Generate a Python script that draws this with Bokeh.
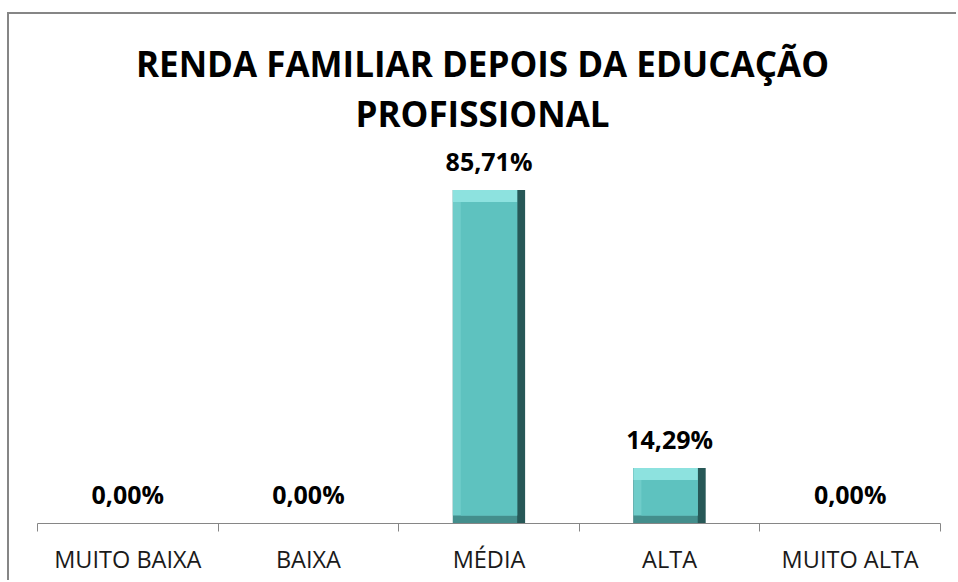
from bokeh.plotting import figure
from bokeh.models import (ColumnDataSource, FactorRange, Range1d, CategoricalAxis, LinearAxis,
                          FixedTicker, Label, CDSView, BooleanFilter)
from bokeh.transform import dodge
from bokeh.core.properties import value
from bokeh.embed import file_html
from bokeh.resources import INLINE

# ---- data ----
title_lines = ["RENDA FAMILIAR DEPOIS DA EDUCAÇÃO", "PROFISSIONAL"]
categories = ["MUITO BAIXA", "BAIXA", "MÉDIA", "ALTA", "MUITO ALTA"]
percentages = [0.00, 0.00, 85.71, 14.29, 0.00]
boundary_ticks = [0, 1, 2, 3, 4, 5]

labels = [f"{v:.2f}%".replace(".", ",") for v in percentages]
src = ColumnDataSource(dict(cat=categories, v=percentages, label=labels))

p = figure(width=949, height=568,
           x_range=FactorRange(factors=categories, range_padding=0.1,
                               range_padding_units="absolute"),
           y_range=Range1d(-15.17, 130.85),
           output_backend="svg", toolbar_location=None,
           x_axis_location=None, y_axis_location=None, title=None,
           min_border_left=10, min_border_right=0, min_border_top=0, min_border_bottom=0)
# chart-area border: only its top and left edges fall inside the picture
p.styles = {"margin-left": "7px", "margin-top": "12px",
            "border-left": "2px solid #868686", "border-top": "2px solid #868686"}
p.xgrid.grid_line_color = None
p.ygrid.grid_line_color = None
p.outline_line_color = None
p.background_fill_color = "white"
p.border_fill_color = "white"

# ---- bevelled bars ----
nz = CDSView(filter=BooleanFilter([v > 0 for v in percentages]))


def xd(d):
    return dodge("cat", d, range=p.x_range)


def yd(d):
    return dodge("v", d, range=p.y_range)


p.vbar(x="cat", top="v", bottom=0, width=0.4, source=src, view=nz,
       fill_color="#275857", line_color=None)
p.vbar(x=xd(-0.022), top="v", bottom=0, width=0.356, source=src, view=nz,
       fill_color="#438E8C", line_color=None)
p.vbar(x=xd(-0.022), top="v", bottom=2.06, width=0.356, source=src, view=nz,
       fill_color="#6FCCC9", line_color=None)
p.vbar(x=xd(-0.022), top="v", bottom=yd(-3.08), width=0.356, source=src, view=nz,
       fill_color="#8DE2DF", line_color=None)
p.vbar(x="cat", top=yd(-3.08), bottom=2.06, width=0.312, source=src, view=nz,
       fill_color="#5EC2BF", line_color=None)

# ---- value labels ----
p.text(x="cat", y="v", text="label", source=src,
       text_font=value("Open Sans"), text_font_style="bold", text_font_size="25px",
       text_align="center", text_baseline="alphabetic", y_offset=-29,
       text_color="#000000")

# ---- axes ----
tick_axis = LinearAxis(ticker=FixedTicker(ticks=boundary_ticks), fixed_location=0,
                       bounds=(0, 5),
                       axis_line_color="#868686", axis_line_width=1,
                       major_tick_line_color="#868686", major_tick_out=8, major_tick_in=0,
                       minor_tick_line_color=None,
                       major_label_overrides={t: "" for t in boundary_ticks})
p.add_layout(tick_axis, "below")

cat_axis = CategoricalAxis(fixed_location=0, axis_line_color=None,
                           major_tick_line_color=None, minor_tick_line_color=None,
                           major_label_standoff=14,
                           major_label_text_font="Open Sans",
                           major_label_text_font_size="23.5px",
                           major_label_text_color="#1a1a1a")
p.add_layout(cat_axis, "below")

# ---- title ----
for i, t in enumerate(title_lines):
    p.add_layout(Label(x=471, y=47 + 50 * i, x_units="canvas", y_units="canvas",
                       text=t, text_align="center", text_baseline="alphabetic",
                       text_font="Open Sans", text_font_style="bold",
                       text_font_size="35px", text_color="#000000"))

open("out.html", "w").write(file_html(p, INLINE))
